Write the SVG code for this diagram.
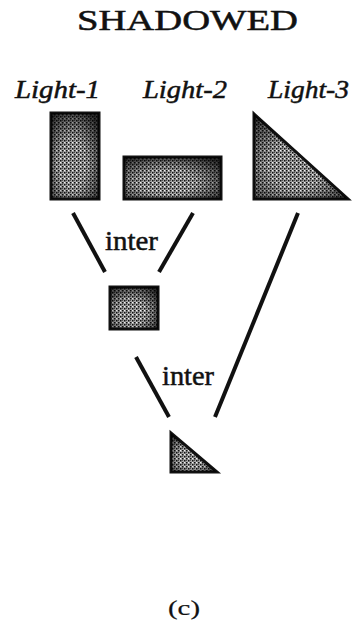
<svg xmlns="http://www.w3.org/2000/svg" width="362" height="628" viewBox="0 0 362 628">
<style>
.t{font-family:"Liberation Serif","Times New Roman",serif;fill:#111;stroke:#111;stroke-width:0.5}
.it{font-style:italic}
.shape{fill:url(#dither);stroke:#111;stroke-width:3}
.shade{stroke:none}
.edge{stroke:#111;stroke-width:4;fill:none}
</style>
<defs>
<pattern id="dither" width="4" height="4" patternUnits="userSpaceOnUse">
<rect width="4" height="4" fill="#a8a8a8"/>
<rect x="0" y="0" width="1.5" height="1.5" fill="#111"/>
<rect x="2" y="2" width="1.5" height="1.5" fill="#111"/>
<rect x="2" y="0" width="1" height="1" fill="#555"/>
<rect x="0" y="2" width="1" height="1" fill="#f4f4f4"/>
</pattern>
<radialGradient id="vig" cx="0.45" cy="0.6" r="0.7">
<stop offset="0.4" stop-color="#000" stop-opacity="0"/>
<stop offset="1" stop-color="#000" stop-opacity="0.75"/>
</radialGradient>
</defs>
<text class="t" x="187.5" y="30" font-size="29" text-anchor="middle" textLength="221" lengthAdjust="spacingAndGlyphs">SHADOWED</text>
<g id="light1">
<text class="t it" x="15" y="98" font-size="26" textLength="85" lengthAdjust="spacingAndGlyphs">Light-1</text>
<rect class="shape" x="51" y="113" width="48" height="86"/>
<rect class="shade" x="51" y="113" width="48" height="86" fill="url(#vig)"/>
</g>
<g id="light2">
<text class="t it" x="143" y="98" font-size="26" textLength="84" lengthAdjust="spacingAndGlyphs">Light-2</text>
<rect class="shape" x="124" y="157" width="97" height="42"/>
<rect class="shade" x="124" y="157" width="97" height="42" fill="url(#vig)"/>
</g>
<g id="light3">
<text class="t it" x="268" y="98" font-size="26" textLength="81" lengthAdjust="spacingAndGlyphs">Light-3</text>
<polygon class="shape" points="254,114 254,199 348,199"/>
<polygon class="shade" points="254,114 254,199 348,199" fill="url(#vig)"/>
</g>
<g id="inter1">
<rect class="shape" x="110" y="287" width="48" height="42"/>
<rect class="shade" x="110" y="287" width="48" height="42" fill="url(#vig)"/>
</g>
<g id="inter2">
<polygon class="shape" points="171,433 171,472 217,472"/>
<polygon class="shade" points="171,433 171,472 217,472" fill="url(#vig)"/>
</g>
<g id="connectors">
<line class="edge" x1="73" y1="213" x2="105" y2="272"/>
<line class="edge" x1="193" y1="213" x2="159" y2="272"/>
<text class="t" x="105" y="250" font-size="28" textLength="53" lengthAdjust="spacingAndGlyphs">inter</text>
<line class="edge" x1="136" y1="357" x2="169" y2="417"/>
<line class="edge" x1="298" y1="213" x2="215" y2="417"/>
<text class="t" x="162" y="385" font-size="28" textLength="52" lengthAdjust="spacingAndGlyphs">inter</text>
</g>
<text class="t" x="168" y="615" font-size="20" textLength="32" lengthAdjust="spacingAndGlyphs" style="stroke-width:0.2">(c)</text>
</svg>
